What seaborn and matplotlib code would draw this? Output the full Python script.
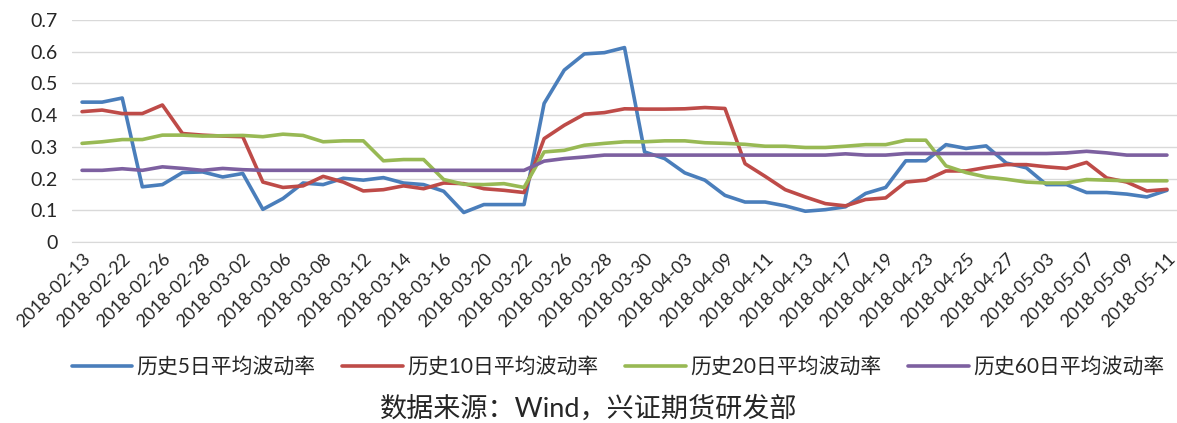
"""Historical average volatility (5/10/20/60 day), Feb-May 2018."""

import numpy as np
import pandas as pd
import matplotlib
matplotlib.use("Agg")
import matplotlib.pyplot as plt
import seaborn as sns

dates = [
    "2018-02-13", "2018-02-14", "2018-02-22", "2018-02-23", "2018-02-26",
    "2018-02-27", "2018-02-28", "2018-03-01", "2018-03-02", "2018-03-05",
    "2018-03-06", "2018-03-07", "2018-03-08", "2018-03-09", "2018-03-12",
    "2018-03-13", "2018-03-14", "2018-03-15", "2018-03-16", "2018-03-19",
    "2018-03-20", "2018-03-21", "2018-03-22", "2018-03-23", "2018-03-26",
    "2018-03-27", "2018-03-28", "2018-03-29", "2018-03-30", "2018-04-02",
    "2018-04-03", "2018-04-04", "2018-04-09", "2018-04-10", "2018-04-11",
    "2018-04-12", "2018-04-13", "2018-04-16", "2018-04-17", "2018-04-18",
    "2018-04-19", "2018-04-20", "2018-04-23", "2018-04-24", "2018-04-25",
    "2018-04-26", "2018-04-27", "2018-05-02", "2018-05-03", "2018-05-04",
    "2018-05-07", "2018-05-08", "2018-05-09", "2018-05-10", "2018-05-11",
]

vol_5d = [
    0.441, 0.441, 0.454, 0.174, 0.181, 0.219, 0.221, 0.205, 0.216, 0.103,
    0.137, 0.186, 0.181, 0.201, 0.195, 0.203, 0.186, 0.181, 0.160, 0.093,
    0.118, 0.118, 0.118, 0.437, 0.542, 0.593, 0.597, 0.613, 0.284, 0.263,
    0.218, 0.195, 0.147, 0.126, 0.126, 0.114, 0.097, 0.102, 0.111, 0.153,
    0.172, 0.256, 0.256, 0.307, 0.295, 0.303, 0.249, 0.234, 0.181, 0.181,
    0.156, 0.156, 0.151, 0.142, 0.163,
]
vol_10d = [
    0.411, 0.416, 0.405, 0.405, 0.432, 0.342, 0.337, 0.334, 0.332, 0.189,
    0.172, 0.177, 0.207, 0.189, 0.161, 0.165, 0.177, 0.168, 0.186, 0.184,
    0.168, 0.163, 0.156, 0.326, 0.368, 0.403, 0.408, 0.420, 0.419, 0.419,
    0.420, 0.424, 0.421, 0.247, 0.207, 0.165, 0.142, 0.121, 0.114, 0.134,
    0.139, 0.189, 0.195, 0.224, 0.224, 0.235, 0.244, 0.244, 0.237, 0.232,
    0.251, 0.202, 0.189, 0.161, 0.166,
]
vol_20d = [
    0.311, 0.316, 0.323, 0.323, 0.337, 0.337, 0.334, 0.335, 0.336, 0.332,
    0.340, 0.336, 0.316, 0.319, 0.319, 0.256, 0.260, 0.260, 0.197, 0.182,
    0.181, 0.184, 0.172, 0.284, 0.289, 0.305, 0.311, 0.316, 0.316, 0.319,
    0.319, 0.313, 0.311, 0.308, 0.302, 0.302, 0.298, 0.298, 0.302, 0.307,
    0.307, 0.321, 0.321, 0.240, 0.219, 0.205, 0.198, 0.189, 0.186, 0.186,
    0.197, 0.195, 0.193, 0.193, 0.193,
]
vol_60d = [
    0.226, 0.226, 0.231, 0.226, 0.237, 0.232, 0.226, 0.232, 0.228, 0.226,
    0.226, 0.226, 0.226, 0.226, 0.226, 0.226, 0.226, 0.226, 0.226, 0.226,
    0.226, 0.226, 0.226, 0.255, 0.263, 0.268, 0.274, 0.274, 0.274, 0.274,
    0.274, 0.274, 0.274, 0.274, 0.274, 0.274, 0.274, 0.274, 0.278, 0.274,
    0.274, 0.279, 0.279, 0.279, 0.279, 0.279, 0.279, 0.279, 0.279, 0.281,
    0.286, 0.281, 0.274, 0.274, 0.274,
]

series_names  = ["历史5日平均波动率", "历史10日平均波动率", "历史20日平均波动率", "历史60日平均波动率"]
series_colors = ["#4A7EBB", "#BE4B48", "#98B954", "#7D60A0"]
y_ticks       = [0, 0.1, 0.2, 0.3, 0.4, 0.5, 0.6, 0.7]
y_tick_labels = ["0", "0.1", "0.2", "0.3", "0.4", "0.5", "0.6", "0.7"]
source_note   = "数据来源：Wind，兴证期货研发部"

sns.set_style("white")
plt.rcParams["font.family"] = ["Lato", "Noto Sans CJK SC", "DejaVu Sans"]

df = pd.DataFrame({"date": dates, series_names[0]: vol_5d, series_names[1]: vol_10d,
                   series_names[2]: vol_20d, series_names[3]: vol_60d})
df["pos"] = np.arange(len(df))
long = df.melt(id_vars=["date", "pos"], var_name="series", value_name="vol")

fig = plt.figure(figsize=(11.77, 4.23), dpi=100)
ax = fig.add_axes([72 / 1177, 1 - 242 / 423, 1105 / 1177, 222 / 423])

sns.lineplot(data=long, x="pos", y="vol", hue="series", hue_order=series_names,
             palette=series_colors, linewidth=2.6, ax=ax, legend=True)

ax.set_xlim(-0.5, len(dates) - 0.5)
ax.set_ylim(0, 0.7)
ax.set_yticks(y_ticks)
ax.set_yticklabels(y_tick_labels, fontsize=14)
ax.set_xticks(df["pos"][::2])
ax.set_xticklabels(df["date"][::2], rotation=45, ha="right", rotation_mode="anchor",
                   fontsize=13)
ax.set_xticks(np.arange(-0.5, len(dates)), minor=True)
ax.tick_params(axis="x", which="major", length=0, pad=6)
ax.tick_params(axis="x", which="minor", length=5, color="#D9D9D9", width=1)
ax.tick_params(axis="y", length=0, pad=10)
ax.grid(axis="y", color="#D9D9D9", lw=1)
ax.set_axisbelow(True)
for side in ["top", "right", "left"]:
    ax.spines[side].set_visible(False)
ax.spines["bottom"].set_color("#D9D9D9")
ax.set_xlabel("")
ax.set_ylabel("")

handles, labels = ax.get_legend_handles_labels()
ax.get_legend().remove()
fig.legend(handles, labels, loc="center", bbox_to_anchor=(0.525, 1 - 367 / 423), ncol=4,
           frameon=False, fontsize=15, handlelength=2.9, columnspacing=1.3,
           handletextpad=0.2)

fig.text(0.5, 1 - 409 / 423, source_note, ha="center", va="center", fontsize=19.5)

fig.savefig("out.png", dpi=100)
